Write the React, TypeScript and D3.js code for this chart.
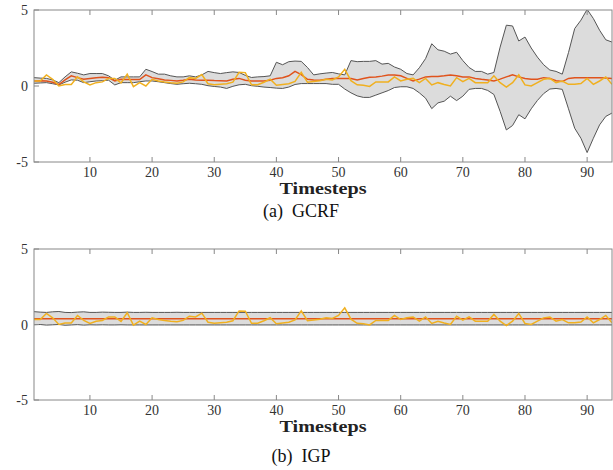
import React from "react"
import * as d3 from "d3"

// timesteps 1..94
const steps = d3.range(1, 95)

const gcrfUpper = [
  0.55, 0.52, 0.5, 0.4, 0.22, 0.6, 0.93, 0.84, 0.73, 0.82,
  0.82, 0.82, 0.67, 0.38, 0.6, 0.6, 0.6, 0.6, 1.1, 0.95,
  0.78, 0.78, 0.67, 0.6, 0.6, 0.67, 0.6, 0.73, 0.96, 0.88,
  0.82, 0.88, 0.93, 0.89, 0.7, 0.56, 0.6, 0.62, 0.67, 1.56,
  1.4, 1.6, 1.64, 1.62, 1.22, 0.73, 0.8, 0.85, 0.89, 0.8,
  0.73, 1.67, 1.6, 1.62, 1.62, 1.67, 1.44, 1.49, 1.25, 1.1,
  0.82, 0.73, 1.2, 1.8, 2.78, 2.38, 2.29, 2.1, 2.22, 1.67,
  1.22, 0.96, 0.96, 0.78, 0.89, 2.56, 4.0, 3.95, 2.96, 3.22,
  2.5, 1.9, 1.4, 1.05, 0.96, 0.78, 2.2, 3.78, 4.33, 5.04,
  4.44, 3.67, 3.04, 2.89,
]

const gcrfLower = [
  0.18, 0.2, 0.22, 0.15, 0.07, 0.25, 0.4, 0.38, 0.22, 0.28,
  0.33, 0.35, 0.38, 0.07, 0.22, 0.22, 0.22, 0.28, 0.33, 0.33,
  0.28, 0.22, 0.16, 0.11, 0.15, 0.18, 0.15, 0.11, 0.02, -0.03,
  -0.07, -0.16, -0.02, 0.08, 0.11, 0.02, -0.02, -0.07, -0.1, -0.14,
  -0.16, -0.07, 0.1, 0.16, 0.16, 0.16, 0.16, 0.16, 0.11, 0.11,
  -0.2, -0.45, -0.65, -0.75, -0.75, -0.6, -0.45, -0.3, -0.1, -0.05,
  -0.05, -0.16, -0.45, -0.8, -1.49, -1.11, -1.0, -0.67, -0.96, -0.67,
  -0.22, -0.16, -0.16, -0.29, -0.56, -1.67, -2.89, -2.6, -1.89, -2.16,
  -1.5, -0.95, -0.5, -0.2, -0.16, -0.22, -1.5, -2.78, -3.44, -4.38,
  -3.44, -2.56, -2.0, -1.78,
]

const gcrfMean = [
  0.33, 0.35, 0.33, 0.25, 0.1, 0.4, 0.67, 0.55, 0.44, 0.5,
  0.55, 0.57, 0.55, 0.33, 0.44, 0.42, 0.42, 0.42, 0.73, 0.55,
  0.48, 0.4, 0.37, 0.33, 0.38, 0.44, 0.4, 0.38, 0.38, 0.36,
  0.35, 0.33, 0.44, 0.5, 0.38, 0.33, 0.33, 0.33, 0.38, 0.5,
  0.55, 0.67, 0.96, 0.75, 0.44, 0.4, 0.38, 0.45, 0.5, 0.5,
  0.5, 0.5, 0.4, 0.5, 0.58, 0.6, 0.65, 0.73, 0.73, 0.67,
  0.5, 0.33, 0.45, 0.6, 0.62, 0.62, 0.67, 0.73, 0.68, 0.6,
  0.6, 0.5, 0.44, 0.4, 0.33, 0.45, 0.6, 0.73, 0.6, 0.5,
  0.44, 0.44, 0.55, 0.5, 0.35, 0.29, 0.5, 0.55, 0.55, 0.55,
  0.55, 0.55, 0.52, 0.5,
]

const observed = [
  0.33, 0.33, 0.73, 0.44, 0.0, 0.1, 0.1, 0.6, 0.27, 0.07,
  0.22, 0.27, 0.5, 0.5, 0.2, 0.78, -0.04, 0.22, 0.0, 0.44,
  0.33, 0.27, 0.22, 0.18, 0.27, 0.55, 0.5, 0.75, 0.15, 0.08,
  0.12, 0.15, 0.25, 0.9, 0.88, 0.08, 0.08, 0.25, 0.45, 0.05,
  0.1, 0.15, 0.3, 0.9, 0.25, 0.3, 0.35, 0.45, 0.4, 0.6,
  1.1, 0.35, 0.08, 0.05, -0.03, 0.27, 0.27, 0.27, 0.6, 0.33,
  0.44, 0.5, 0.22, 0.5, 0.07, 0.22, 0.1, 0.0, 0.55, 0.29,
  0.5, 0.22, 0.22, 0.22, 0.67, 0.22, -0.07, 0.22, 0.73, 0.07,
  0.0, 0.22, 0.44, 0.5, 0.22, 0.33, 0.11, 0.11, 0.16, 0.5,
  0.11, 0.33, 0.6, 0.11,
]

const igpUpper = [
  0.85, 0.82, 0.8, 0.84, 0.86, 0.8, 0.79, 0.82, 0.84, 0.8,
  0.8, 0.82, 0.81, 0.8, 0.8, 0.82, 0.8, 0.8, 0.81, 0.8,
  0.8, 0.8, 0.8, 0.81, 0.8, 0.8, 0.8, 0.8, 0.8, 0.8,
  0.8, 0.8, 0.8, 0.8, 0.8, 0.8, 0.8, 0.8, 0.8, 0.8,
  0.8, 0.8, 0.8, 0.8, 0.8, 0.8, 0.8, 0.8, 0.8, 0.8,
  0.8, 0.8, 0.8, 0.8, 0.8, 0.8, 0.8, 0.8, 0.8, 0.8,
  0.8, 0.8, 0.8, 0.8, 0.8, 0.8, 0.8, 0.8, 0.8, 0.8,
  0.8, 0.8, 0.8, 0.8, 0.8, 0.8, 0.8, 0.8, 0.8, 0.8,
  0.8, 0.8, 0.8, 0.8, 0.8, 0.8, 0.8, 0.8, 0.8, 0.8,
  0.8, 0.8, 0.8, 0.8,
]

const igpLower = [
  -0.02, 0.0, -0.04, -0.02, 0.0, -0.05, -0.03, -0.01, -0.04, -0.02,
  -0.03, -0.02, -0.03, -0.03, -0.02, -0.03, -0.03, -0.03, -0.03, -0.03,
  -0.03, -0.03, -0.03, -0.03, -0.03, -0.03, -0.03, -0.03, -0.03, -0.03,
  -0.03, -0.03, -0.03, -0.03, -0.03, -0.03, -0.03, -0.03, -0.03, -0.03,
  -0.03, -0.03, -0.03, -0.03, -0.03, -0.03, -0.03, -0.03, -0.03, -0.03,
  -0.03, -0.03, -0.03, -0.03, -0.03, -0.03, -0.03, -0.03, -0.03, -0.03,
  -0.03, -0.03, -0.03, -0.03, -0.03, -0.03, -0.03, -0.03, -0.03, -0.03,
  -0.03, -0.03, -0.03, -0.03, -0.03, -0.03, -0.03, -0.03, -0.03, -0.03,
  -0.03, -0.03, -0.03, -0.03, -0.03, -0.03, -0.03, -0.03, -0.03, -0.03,
  -0.03, -0.03, -0.03, -0.03,
]

const igpMean = steps.map(() => 0.38)

const xTicks = [10, 20, 30, 40, 50, 60, 70, 80, 90]
const yTicks = [-5, 0, 5]

const serif = "'Liberation Serif', 'Times New Roman', serif"

function Panel({ id, top, bottom, upper, lower, mean, caption, captionY }) {
  const left = 34, right = 612
  const x = d3.scaleLinear().domain([1, 94]).range([left, right])
  const y = d3.scaleLinear().domain([-5, 5]).range([bottom, top])

  const area = d3.area<number>()
    .x((d) => x(d))
    .y0((d) => y(lower[d - 1]))
    .y1((d) => y(upper[d - 1]))
  const lineOf = (arr) => d3.line<number>().x((d) => x(d)).y((d) => y(arr[d - 1]))(steps)

  return (
    <g>
      <defs>
        <clipPath id={id}>
          <rect x={left} y={top} width={right - left} height={bottom - top} />
        </clipPath>
      </defs>
      <g clipPath={`url(#${id})`}>
        <path d={area(steps)} fill="#dcdcdc" stroke="none" />
        <path d={lineOf(upper)} fill="none" stroke="#555" strokeWidth={1} />
        <path d={lineOf(lower)} fill="none" stroke="#555" strokeWidth={1} />
        <path d={lineOf(mean)} fill="none" stroke="#e0531c" strokeWidth={1.5} />
        <path d={lineOf(observed)} fill="none" stroke="#f0b020" strokeWidth={1.5} />
      </g>
      <rect x={left} y={top} width={right - left} height={bottom - top} fill="none" stroke="#888" strokeWidth={1} />
      {xTicks.map((t) => (
        <g key={t}>
          <line x1={x(t)} x2={x(t)} y1={bottom} y2={bottom - 5} stroke="#888" />
          <line x1={x(t)} x2={x(t)} y1={top} y2={top + 5} stroke="#888" />
          <text x={x(t)} y={bottom + 15} textAnchor="middle" fontSize={14} fill="#333" fontFamily={serif}>{t}</text>
        </g>
      ))}
      {yTicks.map((t) => (
        <g key={t}>
          <line x1={left} x2={left + 5} y1={y(t)} y2={y(t)} stroke="#888" />
          <text x={left - 6} y={y(t) + 5} textAnchor="end" fontSize={14} fill="#333" fontFamily={serif}>{t}</text>
        </g>
      ))}
      <text x={(left + right) / 2} y={bottom + 32} textAnchor="middle" fontSize={16} fontWeight="bold" fill="#222"
        fontFamily={serif} textLength={87} lengthAdjust="spacingAndGlyphs">Timesteps</text>
      <text x={301} y={captionY} textAnchor="middle" fontSize={18} fill="#111" fontFamily={serif}>{caption}</text>
    </g>
  )
}

export default function App() {
  return (
    <svg width={613} height={470} style={{ position: "absolute", left: 0, top: 0, background: "#fff" }}>
      <Panel id="clipA" top={10} bottom={162} upper={gcrfUpper} lower={gcrfLower} mean={gcrfMean}
        caption={"(a)\u00a0\u00a0GCRF"} captionY={217} />
      <Panel id="clipB" top={249} bottom={400} upper={igpUpper} lower={igpLower} mean={igpMean}
        caption={"(b)\u00a0\u00a0IGP"} captionY={462} />
    </svg>
  )
}
